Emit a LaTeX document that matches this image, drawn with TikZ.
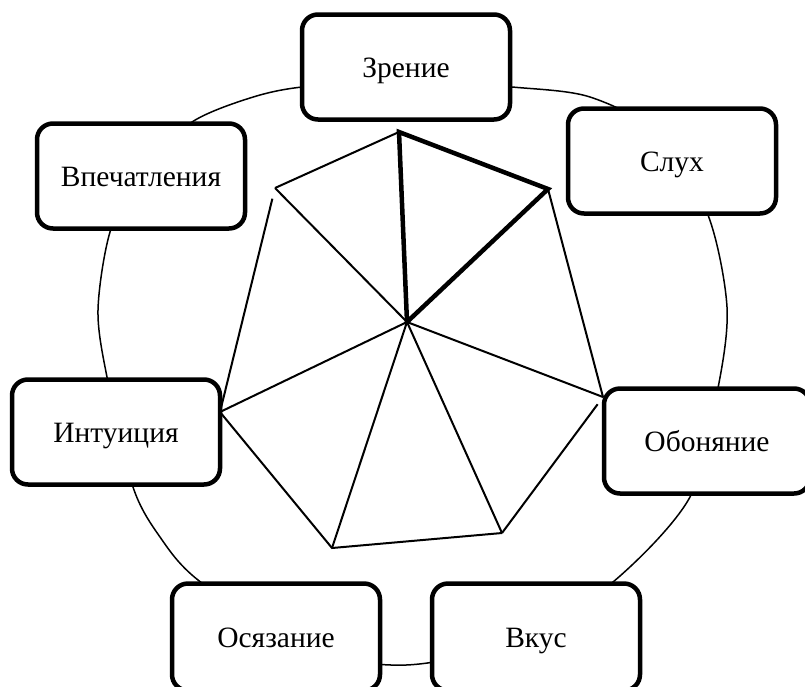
\documentclass[tikz,border=0pt]{standalone}
\usepackage{fontspec}
\setmainfont{Liberation Serif}
\tikzstyle{sensebox}=[
      rectangle,
      line width = 4.5pt,
      rounded corners = 16pt,
      draw = black,
      fill = white,
      minimum width = 208pt,
      minimum height = 105pt,
      text height = 20pt,
      text depth = 0pt,
      font = \fontsize{29.5}{35}\selectfont
      ]
\tikzstyle{ring}=[line width = 1.5pt]
\tikzstyle{thinline}=[line width = 2pt]
\tikzstyle{thickline}=[line width = 4.5pt]

\begin{document}
\begin{tikzpicture}[x=1pt,y=-1pt]
\useasboundingbox (0,0) rectangle (805,686);
\draw[ring] plot[smooth cycle] coordinates {
  (406,80) (512,87) (590,97) (660,135) (708,215) (727,307) (718,388)
  (690,497) (613,582) (520,640) (406,665) (300,648) (198,580) (160,537)
  (133,487) (107,377) (98,310) (110,232) (140,170) (192,122) (250,98) (302,87)};

\node[sensebox] (zrenie) at (406,67) {Зрение};
\node[sensebox] (sluh) at (672,161) {Слух};
\node[sensebox] (vpech) at (141,176) {Впечатления};
\node[sensebox] (intuit) at (116,432) {Интуиция};
\node[sensebox, minimum width = 206pt] (obon) at (707,441) {Обоняние};
\node[sensebox, minimum height = 107pt] (vkus) at (536,637) {Вкус};
\node[sensebox, minimum height = 107pt] (osyaz) at (276,637) {Осязание};

\coordinate (c) at (407,322);
\coordinate (t) at (399,132);
\coordinate (rt) at (548,189);
\coordinate (r) at (603,397);
\coordinate (br) at (502,533);
\coordinate (bl) at (332,548);
\coordinate (l) at (220,412);
\coordinate (lt) at (275,188);

\draw[thinline] (t) -- (lt);
\draw[thinline, shorten <=11pt] (lt) -- (l);
\draw[thinline] (l) -- (bl) -- (br);
\draw[thinline, shorten >=9pt] (br) -- (r);
\draw[thinline] (r) -- (rt);
\foreach \v in {lt,l,bl,br,r}
  \draw[thinline] (c) -- (\v);
\draw[thickline] (c) -- (t) -- (rt) -- cycle;
\end{tikzpicture}
\end{document}
